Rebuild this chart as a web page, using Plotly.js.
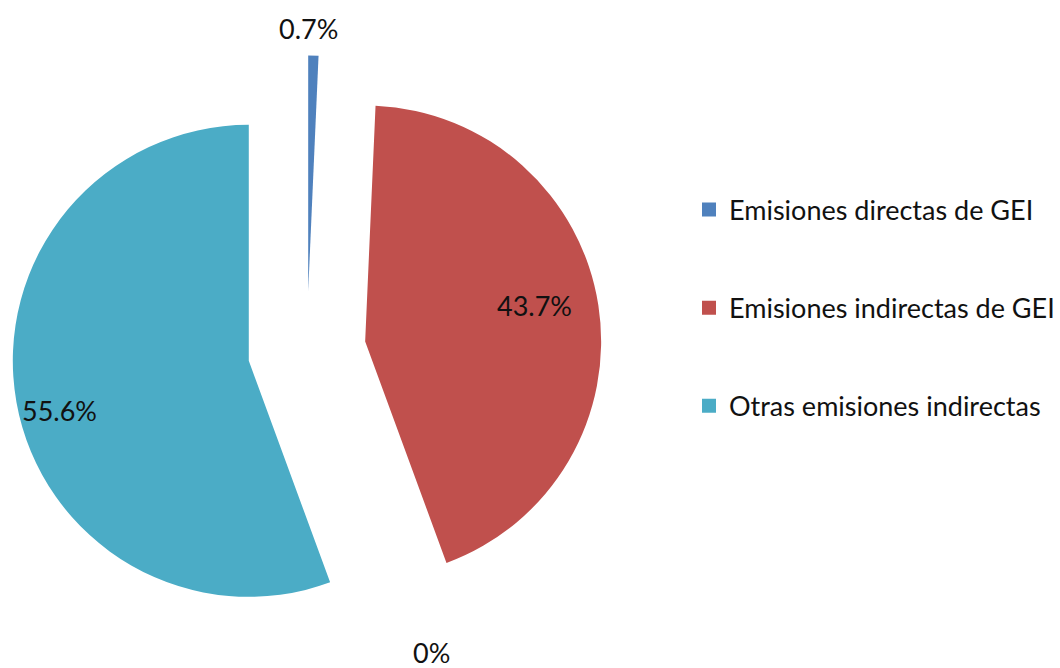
<!DOCTYPE html>
<html>
<head>
<meta charset="utf-8">
<script src="https://cdn.plot.ly/plotly-3.0.1.min.js"></script>
<style>html,body{margin:0;padding:0;background:#fff;}#chart{width:1060px;height:668px;}</style>
</head>
<body>
<div id="chart"></div>
<script>
const categories = ["Emisiones directas de GEI", "Emisiones indirectas de GEI", "Otras emisiones indirectas"];
const shares = [0.7, 43.7, 55.6];
const colors = ["#4F81BD", "#C0504D", "#4BACC6"];
const zeroShare = 0;

// label placement (paper pixels) for the data labels, as in the original
const labelPixelPos = [[311, 29], [539, 305], [60, 410]];
const zeroLabelPixelPos = [435, 652];

const font = "Lato, 'Liberation Sans', sans-serif";
const W = 1060, H = 668;

const pie = {
  type: "pie",
  labels: categories,
  values: shares,
  sort: false,
  direction: "clockwise",
  rotation: 0,
  pull: [0.25, 0.25, 0.25],
  marker: {colors: colors, line: {width: 0}},
  textinfo: "none",
  domain: {x: [12/W, 607/W], y: [1 - 648/H, 1 - 53/H]},
  showlegend: false,
  hoverinfo: "label+percent"
};

const legendTraces = categories.map((c, i) => ({
  type: "scatter",
  mode: "markers",
  x: [null], y: [null],
  name: c,
  legendgroup: "g" + i,
  marker: {symbol: "square", size: 14, color: colors[i]},
  showlegend: true,
  hoverinfo: "skip"
}));

const annotations = shares.map((v, i) => ({
  text: v + "%",
  x: labelPixelPos[i][0] / W, y: 1 - labelPixelPos[i][1] / H,
  xref: "paper", yref: "paper",
  xanchor: "center", yanchor: "middle",
  showarrow: false,
  font: {family: font, size: 27, color: "#111"}
}));
annotations.push({
  text: zeroShare + "%",
  x: zeroLabelPixelPos[0] / W, y: 1 - zeroLabelPixelPos[1] / H,
  xref: "paper", yref: "paper",
  xanchor: "center", yanchor: "middle",
  showarrow: false,
  borderpad: 0,
  font: {family: font, size: 27, color: "#111"}
});

const layout = {
  width: W, height: H,
  margin: {l: 0, r: 0, t: 0, b: 0},
  paper_bgcolor: "#fff",
  plot_bgcolor: "#fff",
  xaxis: {visible: false},
  yaxis: {visible: false},
  showlegend: true,
  legend: {
    x: 695/W, xanchor: "left",
    y: 1 - 308/H, yanchor: "middle",
    traceorder: "grouped",
    tracegroupgap: 60,
    font: {family: font, size: 27, color: "#111"},
    bgcolor: "rgba(0,0,0,0)"
  },
  annotations: annotations
};

Plotly.newPlot("chart", [pie].concat(legendTraces), layout, {displayModeBar: false, staticPlot: true});
</script>
</body>
</html>
